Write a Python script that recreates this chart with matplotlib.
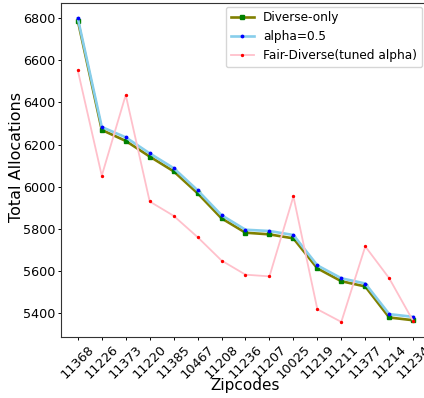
import matplotlib
matplotlib.use("Agg")
import matplotlib.pyplot as plt

zipcodes = ["11368", "11226", "11373", "11220", "11385", "10467", "11208", "11236",
            "11207", "10025", "11219", "11211", "11377", "11214", "11234"]
diverse_only = [6787, 6269, 6217, 6143, 6073, 5969, 5850, 5782, 5774, 5755, 5613, 5552, 5527, 5380, 5367]
alpha_05 = [6798, 6283, 6234, 6158, 6088, 5983, 5865, 5796, 5790, 5771, 5627, 5566, 5541, 5396, 5383]
fair_diverse = [6551, 6052, 6435, 5930, 5862, 5761, 5650, 5583, 5575, 5954, 5419, 5359, 5717, 5566, 5363]

fig = plt.figure(figsize=(4.24, 3.98), dpi=100)
ax = fig.add_axes([0.144, 0.153, 0.870, 0.839])

x = range(len(zipcodes))
ax.plot(x, diverse_only, color='olive', linewidth=1.9, marker='s', markersize=2.2,
        markerfacecolor='green', markeredgecolor='green', label="Diverse-only")
ax.plot(x, alpha_05, color='skyblue', linewidth=1.9, marker='.', markersize=3.5,
        markerfacecolor='blue', markeredgecolor='blue', label="alpha=0.5")
ax.plot(x, fair_diverse, color='pink', linewidth=1.3, marker='.', markersize=2.8,
        markerfacecolor='red', markeredgecolor='red', label="Fair-Diverse(tuned alpha)")

for s in ax.spines.values():
    s.set_linewidth(0.8)
    s.set_color('#333333')

ax.set_xticks(list(x))
ax.set_xticklabels(zipcodes, rotation=45, fontsize=9.3)
ax.tick_params(axis='both', length=2.2, width=0.7, pad=1.8)
ax.tick_params(axis='y', labelsize=9.2)
ax.set_xlabel("Zipcodes", fontsize=11)
ax.set_ylabel("Total Allocations", fontsize=11.5)
ax.xaxis.set_label_coords(0.5, -0.123)
ax.yaxis.set_label_coords(-0.100, 0.539)
ax.legend(loc='upper right', bbox_to_anchor=(0.995, 1.008), fontsize=8.7, handlelength=1.9)

plt.savefig("out.png", format="png")
